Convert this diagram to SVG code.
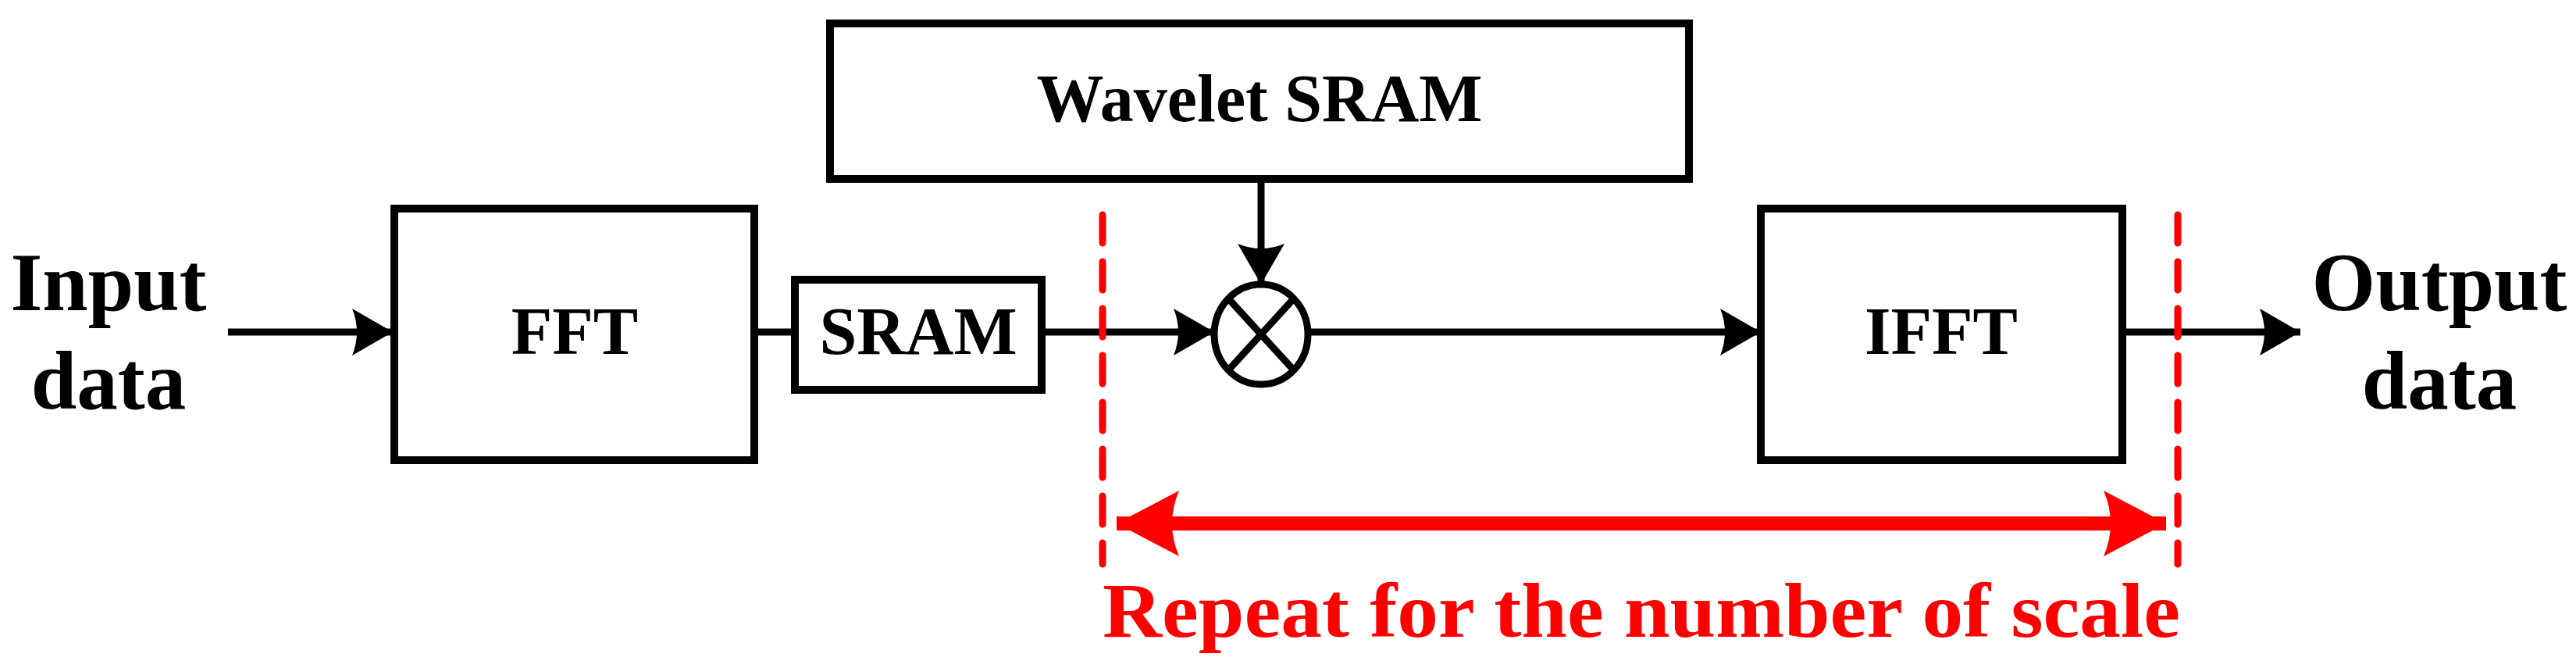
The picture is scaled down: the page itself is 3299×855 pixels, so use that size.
<svg xmlns="http://www.w3.org/2000/svg" width="3299" height="855" viewBox="0 0 3299 855">
<style>
.box{fill:#fff;stroke:#000;stroke-width:10}
.ln{stroke:#000;stroke-width:9;fill:none}
.rd{stroke:#f00;stroke-width:9;fill:none;stroke-dasharray:36 24;stroke-linecap:round}
.t{font-family:"Liberation Serif","Times New Roman",serif;font-weight:bold;text-anchor:middle}
</style>
<defs>
<marker id="ah" markerUnits="userSpaceOnUse" viewBox="-55 -32 57 64" refX="0" refY="0" markerWidth="57" markerHeight="64" orient="auto">
<path d="M0,0 L-52,-30 Q-40,0 -52,30 Z" fill="#000"/>
</marker>
<marker id="rh" markerUnits="userSpaceOnUse" viewBox="-90 -46 92 92" refX="0" refY="0" markerWidth="92" markerHeight="92" orient="auto-start-reverse">
<path d="M0,0 L-80,-42 Q-62,0 -80,42 Z" fill="#f00"/>
</marker>
</defs>
<g id="connectors">
<line class="ln" x1="292" y1="425" x2="503" y2="425" marker-end="url(#ah)"/>
<line class="ln" x1="966" y1="425" x2="1018" y2="425"/>
<line class="ln" x1="1334" y1="425" x2="1555" y2="425" marker-end="url(#ah)"/>
<line class="ln" x1="1615" y1="229" x2="1615" y2="364" marker-end="url(#ah)"/>
<line class="ln" x1="1677" y1="425" x2="2255" y2="425" marker-end="url(#ah)"/>
<line class="ln" x1="2718" y1="425" x2="2946" y2="425" marker-end="url(#ah)"/>
<line x1="1430" y1="670" x2="2774" y2="670" stroke="#f00" stroke-width="18" marker-start="url(#rh)" marker-end="url(#rh)"/>
</g>
<g id="fft"><rect class="box" x="505" y="267" width="461" height="322"/><text class="t" x="736" y="453" font-size="86">FFT</text></g>
<g id="sram"><rect class="box" x="1018" y="358" width="316" height="141"/><text class="t" x="1176" y="453" font-size="86">SRAM</text></g>
<g id="wavelet"><rect class="box" x="1063" y="30" width="1100" height="199"/><text class="t" x="1613" y="155" font-size="86">Wavelet SRAM</text></g>
<g id="mult"><ellipse cx="1615" cy="428" rx="60" ry="64" fill="#fff" stroke="#000" stroke-width="9"/>
<line class="ln" x1="1573" y1="382" x2="1657" y2="474"/><line class="ln" x1="1657" y1="382" x2="1573" y2="474"/></g>
<g id="ifft"><rect class="box" x="2255" y="267" width="463" height="322"/><text class="t" x="2486" y="453" font-size="86">IFFT</text></g>
<g id="input"><text class="t" x="139" y="397" font-size="105">Input</text><text class="t" x="139" y="523" font-size="105">data</text></g>
<g id="output"><text class="t" x="3124" y="397" font-size="105">Output</text><text class="t" x="3124" y="523" font-size="105">data</text></g>
<g id="repeat">
<line class="rd" x1="1412" y1="275" x2="1412" y2="722"/>
<line class="rd" x1="2789" y1="275" x2="2789" y2="722"/>
<text class="t" x="2102" y="815" font-size="100" fill="#f00" textLength="1380" lengthAdjust="spacingAndGlyphs">Repeat for the number of scale</text>
</g>
</svg>
